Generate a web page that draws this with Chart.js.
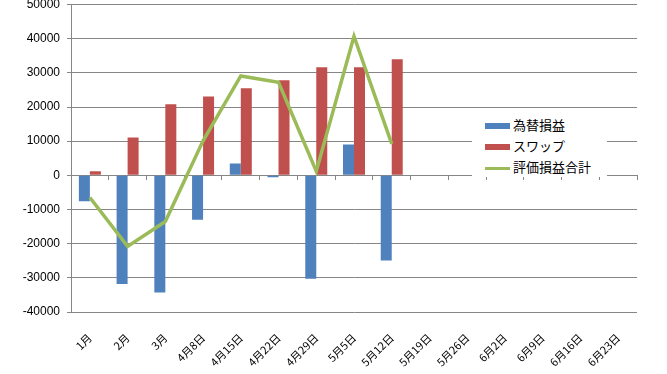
<!DOCTYPE html>
<html>
<head>
<meta charset="utf-8">
<script src="https://cdn.jsdelivr.net/npm/chart.js@4/dist/chart.umd.min.js"></script>
<style>
  html, body { margin: 0; padding: 0; background: #fff; }
  #wrap { position: relative; width: 667px; height: 374px; }
  #legend {
    position: absolute; left: 472px; top: 112px; width: 135px; height: 65px;
    background: #fff; font-family: "Noto Sans CJK JP", sans-serif; font-size: 13px; color: #000;
  }
  .item { position: absolute; left: 13px; height: 21px; line-height: 21px; white-space: nowrap; }
  .sw { display: inline-block; width: 25px; vertical-align: middle; margin-right: 3px; }
</style>
</head>
<body>
<div id="wrap">
  <canvas id="c" width="667" height="374"></canvas>
  <div id="legend"></div>
</div>
<script>
const categories = ['1月','2月','3月','4月8日','4月15日','4月22日','4月29日','5月5日','5月12日','5月19日','5月26日','6月2日','6月9日','6月16日','6月23日'];
const fxGain   = [-7600, -31800, -34300, -13000, 3500, -550, -30300, 9000, -24900, null, null, null, null, null, null];
const swapGain = [1200, 11100, 20800, 23100, 25500, 27800, 31600, 31600, 34000, null, null, null, null, null, null];
const totalGain = [-6500, -20800, -13500, 10100, 29100, 27200, 1200, 40700, 9200, null, null, null, null, null, null];
const seriesNames = ['為替損益', 'スワップ', '評価損益合計'];
const yTicks = { min: -40000, max: 50000, step: 10000 };

const gridColor = '#868686';

const chart = new Chart(document.getElementById('c'), {
  data: {
    labels: categories,
    datasets: [
      { type: 'line', label: seriesNames[2], data: totalGain, borderColor: '#9BBB59', backgroundColor: '#9BBB59',
        borderWidth: 3.5, pointRadius: 0, tension: 0, order: 0 },
      { type: 'bar', label: seriesNames[0], data: fxGain, backgroundColor: '#4F81BD', order: 1 },
      { type: 'bar', label: seriesNames[1], data: swapGain, backgroundColor: '#C0504D', order: 1 }
    ]
  },
  options: {
    responsive: false,
    animation: false,
    layout: { padding: { top: 4.5, right: 30, left: 0, bottom: 0 } },
    datasets: { bar: { barPercentage: 1, categoryPercentage: 0.583 } },
    plugins: { legend: { display: false }, tooltip: { enabled: false } },
    scales: {
      x: {
        type: 'category',
        offset: true,
        grid: { display: false },
        border: { display: false },
        ticks: {
          autoSkip: false, maxRotation: 45, minRotation: 45, padding: 11,
          color: '#000', font: { family: '"Noto Sans CJK JP"', size: 11 }
        },
        afterFit: s => { s.height = 62; s.paddingLeft = 0; s.paddingRight = 0; }
      },
      x2: {
        type: 'category',
        offset: true,
        position: { y: 0 },
        grid: { offset: true, drawOnChartArea: false, tickLength: 4, color: gridColor },
        border: { color: gridColor },
        ticks: { display: false }
      },
      y: {
        min: yTicks.min, max: yTicks.max,
        grid: { color: gridColor, tickLength: 4 },
        border: { color: gridColor },
        ticks: {
          stepSize: yTicks.step, padding: 7, color: '#000',
          font: { family: '"Liberation Sans"', size: 12 },
          callback: v => String(v)
        },
        afterFit: s => { s.width = 71; s.paddingTop = 0; s.paddingBottom = 0; }
      }
    }
  }
});

// Legend built from the chart's datasets
const legend = document.getElementById('legend');
const orderIdx = [1, 2, 0];
orderIdx.forEach((di, k) => {
  const ds = chart.data.datasets[di];
  const item = document.createElement('div');
  item.className = 'item';
  item.style.top = (2 + k * 21) + 'px';
  const sw = document.createElement('span');
  sw.className = 'sw';
  sw.style.height = ds.type === 'line' ? '3px' : '6px';
  sw.style.background = ds.backgroundColor;
  item.appendChild(sw);
  item.appendChild(document.createTextNode(ds.label));
  legend.appendChild(item);
});
</script>
</body>
</html>
